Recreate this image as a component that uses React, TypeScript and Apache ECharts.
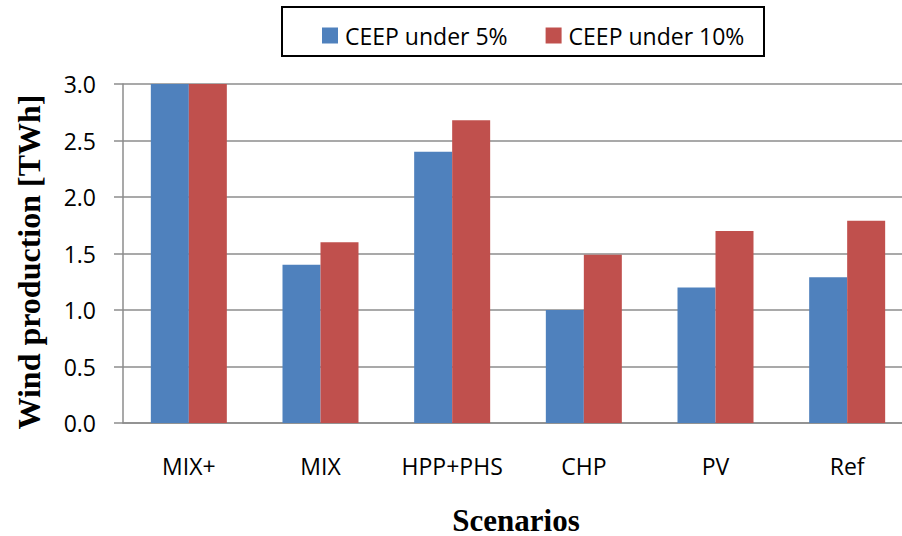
import React, { useEffect, useRef } from "react";
import * as echarts from "echarts";

const categories = ["MIX+", "MIX", "HPP+PHS", "CHP", "PV", "Ref"];
const ceep5 = [3.0, 1.4, 2.4, 1.0, 1.2, 1.29];
const ceep10 = [3.0, 1.6, 2.68, 1.49, 1.7, 1.79];
const seriesNames = ["CEEP under 5%", "CEEP under 10%"];
const yTitle = "Wind production [TWh]";
const xTitle = "Scenarios";

export default function App() {
  const ref = useRef<HTMLDivElement>(null);
  useEffect(() => {
    if (!ref.current) return;
    const chart = echarts.init(ref.current, null, { renderer: "svg" });
    const gridColor = "#8c8c8c";
    const labelFont = "'Open Sans', sans-serif";
    chart.setOption({
      animation: false,
      backgroundColor: "#ffffff",
      grid: { left: 123, top: 84, bottom: 113, right: 7, containLabel: false },
      legend: {
        data: seriesNames,
        left: 317,
        top: 19,
        itemWidth: 16,
        itemHeight: 16,
        itemGap: 38,
        icon: "rect",
        textStyle: { fontFamily: labelFont, fontSize: 23, color: "#000", padding: [0, 0, 0, 2] },
      },
      xAxis: {
        type: "category",
        data: categories,
        axisLine: { lineStyle: { color: gridColor, width: 1.5 } },
        axisTick: { show: false },
        axisLabel: { interval: 0, fontFamily: labelFont, fontSize: 23, color: "#000", margin: 31 },
      },
      yAxis: {
        type: "value",
        min: 0,
        max: 3,
        interval: 0.5,
        axisLine: { show: true, lineStyle: { color: gridColor, width: 1.5 } },
        axisTick: { show: true, inside: false, length: 9, lineStyle: { color: gridColor, width: 1.5 } },
        splitLine: { show: true, lineStyle: { color: gridColor, width: 1.5 } },
        axisLabel: {
          fontFamily: labelFont,
          fontSize: 23,
          color: "#000",
          margin: 27,
          formatter: (v: number) => v.toFixed(1),
        },
      },
      series: [
        {
          name: seriesNames[0],
          type: "bar",
          data: ceep5,
          barWidth: 38,
          barGap: "0%",
          itemStyle: { color: "#4F81BD" },
        },
        {
          name: seriesNames[1],
          type: "bar",
          data: ceep10,
          barWidth: 38,
          barGap: "0%",
          itemStyle: { color: "#C0504D" },
        },
      ],
      graphic: [
        {
          type: "rect",
          shape: { x: 282, y: 7, width: 482, height: 49 },
          style: { fill: "none", stroke: "#000", lineWidth: 2 },
          z: 10,
        },
        {
          type: "text",
          x: 29,
          y: 262,
          rotation: Math.PI / 2,
          style: {
            text: yTitle,
            fontFamily: "'Liberation Serif', 'Times New Roman', serif",
            fontWeight: "bold",
            fontSize: 32,
            fill: "#000",
            align: "center",
            verticalAlign: "middle",
          },
        },
        {
          type: "text",
          x: 516,
          y: 520,
          style: {
            text: xTitle,
            fontFamily: "'Liberation Serif', 'Times New Roman', serif",
            fontWeight: "bold",
            fontSize: 31,
            fill: "#000",
            align: "center",
            verticalAlign: "middle",
          },
        },
      ],
    });
    return () => chart.dispose();
  }, []);
  return (
    <div
      style={{ position: "fixed", left: 0, top: 0, width: 902, height: 536, overflow: "hidden" }}
    >
      <div ref={ref} style={{ width: 920, height: 536 }} />
    </div>
  );
}
